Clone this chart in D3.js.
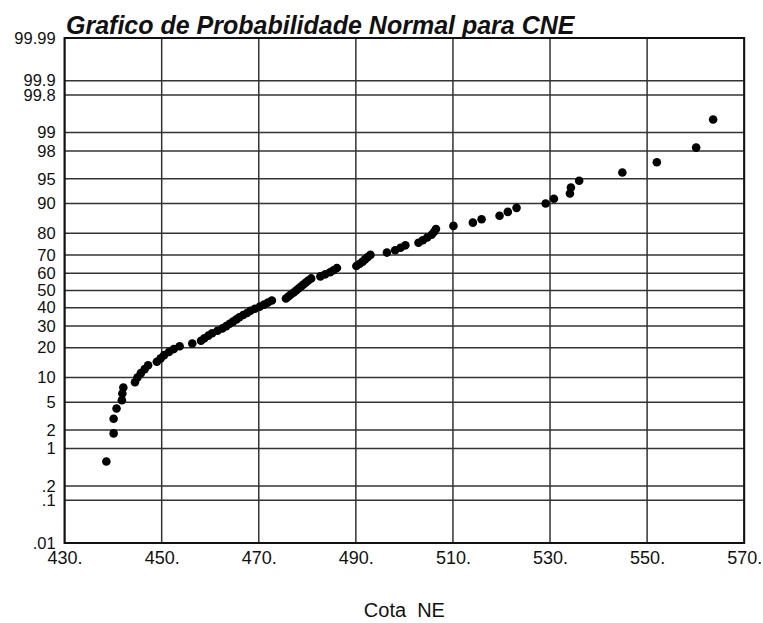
<!DOCTYPE html>
<html>
<head>
<meta charset="utf-8">
<script src="https://cdn.jsdelivr.net/npm/d3@7"></script>
<style>
  html, body { margin: 0; padding: 0; background: #fff; }
  svg { display: block; }
  text { font-family: "Liberation Sans", Arial, Helvetica, sans-serif; fill: #111; }
</style>
</head>
<body>
<svg id="chart" width="763" height="623"></svg>
<script>
// Observed elevations (Cota NE), sorted ascending
const cotaNE = [
  438.6, 440.1, 440.1, 440.7, 441.8, 441.9, 442.1, 444.5, 445.0, 445.7,
  446.5, 447.2, 449.0, 449.8, 450.5, 451.5, 452.5, 453.7, 456.3, 458.1,
  458.8, 459.6, 460.4, 461.5, 462.5, 463.3, 464.0, 464.7, 465.4, 466.0,
  466.8, 467.6, 468.3, 469.2, 470.2, 471.1, 471.9, 472.7, 475.6, 476.1,
  476.6, 477.2, 477.7, 478.2, 478.7, 479.2, 479.7, 480.2, 480.8, 482.7,
  483.7, 484.7, 485.4, 486.1, 490.1, 490.8, 491.4, 491.9, 492.4, 493.0,
  496.4, 498.1, 499.2, 500.2, 502.9, 503.8, 504.7, 505.6, 506.1, 506.5,
  510.1, 514.1, 515.9, 519.6, 521.3, 523.1, 529.1, 530.8, 534.1, 534.3,
  536.0, 544.9, 552.0, 560.1, 563.6
];

// Probability axis (percent) and its labels
const probTicks = [99.99, 99.9, 99.8, 99, 98, 95, 90, 80, 70, 60, 50, 40, 30, 20, 10, 5, 2, 1, 0.2, 0.1, 0.01];
const probLabels = ["99.99", "99.9", "99.8", "99", "98", "95", "90", "80", "70", "60", "50", "40", "30", "20", "10", "5", "2", "1", ".2", ".1", ".01"];

// Elevation axis
const xTicks = [430, 450, 470, 490, 510, 530, 550, 570];
const xLabels = ["430.", "450.", "470.", "490.", "510.", "530.", "550.", "570."];

const titleText = "Grafico de Probabilidade Normal para CNE";
const xTitle = "Cota  NE";

// Inverse standard normal CDF (Acklam's rational approximation)
function probit(p) {
  const a = [-3.969683028665376e+01, 2.209460984245205e+02, -2.759285104469687e+02,
             1.383577518672690e+02, -3.066479806614716e+01, 2.506628277459239e+00];
  const b = [-5.447609879822406e+01, 1.615858368580409e+02, -1.556989798598866e+02,
             6.680131188771972e+01, -1.328068155288572e+01];
  const c = [-7.784894002430293e-03, -3.223964580411365e-01, -2.400758277161838e+00,
             -2.549671010336783e+00, 4.374664141464968e+00, 2.938163982698783e+00];
  const d = [7.784695709041462e-03, 3.224671290700398e-01, 2.445134137142996e+00,
             3.754408661907416e+00];
  const pl = 0.02425, ph = 1 - pl;
  let q, r;
  if (p < pl) {
    q = Math.sqrt(-2 * Math.log(p));
    return (((((c[0]*q+c[1])*q+c[2])*q+c[3])*q+c[4])*q+c[5]) /
           ((((d[0]*q+d[1])*q+d[2])*q+d[3])*q+1);
  } else if (p <= ph) {
    q = p - 0.5; r = q * q;
    return (((((a[0]*r+a[1])*r+a[2])*r+a[3])*r+a[4])*r+a[5])*q /
           (((((b[0]*r+b[1])*r+b[2])*r+b[3])*r+b[4])*r+1);
  } else {
    q = Math.sqrt(-2 * Math.log(1 - p));
    return -(((((c[0]*q+c[1])*q+c[2])*q+c[3])*q+c[4])*q+c[5]) /
            ((((d[0]*q+d[1])*q+d[2])*q+d[3])*q+1);
  }
}

const svg = d3.select("#chart");
const plot = { left: 64.6, right: 744.2, top: 38, bottom: 543 };

const zMax = probit(0.9999);
const x = d3.scaleLinear().domain([430, 570]).range([plot.left, plot.right]);
const y = d3.scaleLinear().domain([-zMax, zMax]).range([plot.bottom, plot.top]);

const probZ = probTicks.map(p => probit(p / 100));
const labelFor = new Map(probZ.map((z, i) => [z, probLabels[i]]));
const xLabelFor = new Map(xTicks.map((v, i) => [v, xLabels[i]]));

// Grid lines
const grid = svg.append("g").attr("stroke", "#333").attr("stroke-width", 1.5).attr("fill", "none");
grid.selectAll("line.h").data(probZ).join("line")
  .attr("class", "h")
  .attr("x1", plot.left).attr("x2", plot.right)
  .attr("y1", d => y(d)).attr("y2", d => y(d));
grid.selectAll("line.v").data(xTicks).join("line")
  .attr("class", "v")
  .attr("x1", d => x(d)).attr("x2", d => x(d))
  .attr("y1", plot.top).attr("y2", plot.bottom);

// Frame
svg.append("rect")
  .attr("x", plot.left).attr("y", plot.top)
  .attr("width", plot.right - plot.left).attr("height", plot.bottom - plot.top)
  .attr("fill", "none").attr("stroke", "#111").attr("stroke-width", 2);

// Left probability axis
const yAxis = svg.append("g")
  .attr("transform", `translate(${plot.left},0)`)
  .call(d3.axisLeft(y).tickValues(probZ).tickSize(0).tickPadding(9)
    .tickFormat(z => labelFor.get(z)));
yAxis.select(".domain").remove();
yAxis.selectAll("text")
  .style("font-family", "\"Liberation Sans\", Arial, sans-serif")
  .style("font-size", "16.5px")
  .attr("fill", "#111");

// Bottom elevation axis
const xAxis = svg.append("g")
  .attr("transform", `translate(0,${plot.bottom})`)
  .call(d3.axisBottom(x).tickValues(xTicks).tickSize(0).tickPadding(8)
    .tickFormat(v => xLabelFor.get(v)));
xAxis.select(".domain").remove();
xAxis.selectAll("text")
  .style("font-family", "\"Liberation Sans\", Arial, sans-serif")
  .style("font-size", "18px")
  .attr("fill", "#111");

// Data points at Hazen plotting positions
const n = cotaNE.length;
svg.append("g").selectAll("circle").data(cotaNE).join("circle")
  .attr("cx", d => x(d))
  .attr("cy", (d, i) => y(probit((i + 0.5) / n)))
  .attr("r", 4.3)
  .attr("fill", "#000");

// Title
svg.append("text")
  .attr("x", 66).attr("y", 34)
  .style("font-size", "25px")
  .style("font-weight", "bold")
  .style("font-style", "italic")
  .text(titleText);

// Axis title
svg.append("text")
  .attr("x", (plot.left + plot.right) / 2).attr("y", 617)
  .attr("text-anchor", "middle")
  .style("font-size", "20px")
  .style("white-space", "pre")
  .text(xTitle);
</script>
</body>
</html>
